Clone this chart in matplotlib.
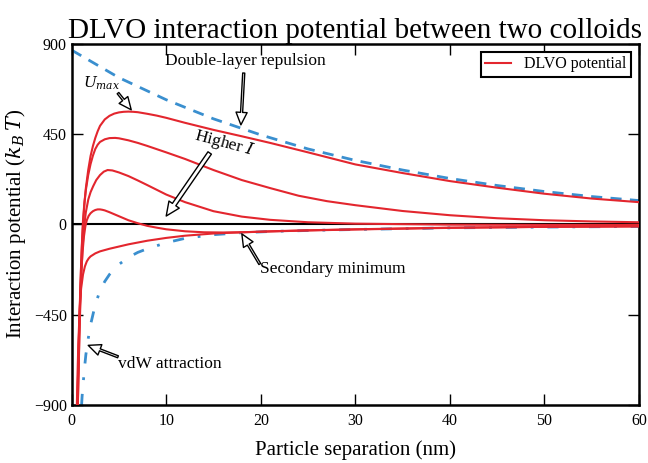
import matplotlib
matplotlib.use('Agg')
import matplotlib.pyplot as plt

# double-layer repulsion (dashed)
x_edl = [0, 5, 10, 15, 20, 25, 30, 35, 40, 45, 50, 55, 60]
u_edl = [867, 730, 620, 525, 445, 375, 318, 270, 228, 193, 163, 138, 118]

# van der Waals attraction (dash-dot)
x_vdw = [1.05, 1.1, 1.2, 1.35, 1.5, 1.75, 2, 2.5, 3, 3.5, 4, 5, 6, 7, 8, 10, 12, 15, 18, 21, 25, 30, 40, 50, 60]
u_vdw = [-900, -860, -800, -720, -650, -570, -500, -400, -330, -285, -250, -200, -165, -140, -122, -92, -70, -52, -42, -36, -31, -26, -18, -14, -11]

# DLVO potential, from low to high ionic strength
x_d1 = [0.6, 0.7, 0.8, 0.9, 1.0, 1.1, 1.2, 1.35, 1.5, 1.75, 2, 2.25, 2.5, 2.75, 3, 3.5, 4, 4.5, 5, 5.5, 6,
        6.5, 7, 8, 9, 10, 12, 15, 18, 21, 25, 30, 35, 40, 45, 50, 55, 60]
u_d1 = [-900, -700, -500, -340, -200, -90, 0, 100, 180, 270, 340, 390, 430, 463, 490, 522, 540, 551, 557, 560, 561,
        560, 558, 550, 541, 530, 505, 470, 438, 405, 358, 298, 255, 215, 182, 152, 128, 110]

x_d2 = [0.65, 0.75, 0.85, 1.0, 1.1, 1.2, 1.35, 1.5, 1.75, 2, 2.25, 2.5, 2.75, 3, 3.5, 4, 4.6, 5, 6, 7, 8,
        10, 12, 15, 18, 21, 24, 27, 30, 35, 40, 45, 50, 55, 60]
u_d2 = [-900, -680, -470, -200, -80, 20, 110, 170, 245, 300, 342, 375, 396, 410, 423, 429, 430, 428, 418, 405, 390,
        358, 325, 270, 220, 180, 142, 115, 95, 66, 45, 30, 20, 14, 10]

x_d3 = [0.65, 0.75, 0.85, 1.0, 1.15, 1.3, 1.5, 1.76, 2, 2.28, 2.6, 3, 3.4, 3.8, 4.3, 5, 6, 7, 8,
        10, 12, 15, 18, 21, 25, 30, 40, 50, 60]
u_d3 = [-900, -700, -500, -280, -120, -20, 60, 124, 160, 190, 220, 245, 262, 270, 268, 258, 240, 218, 195,
        148, 110, 65, 38, 22, 10, 3, -2, -3, -3]

x_d4 = [0.6, 0.7, 0.8, 0.9, 1.0, 1.15, 1.3, 1.45, 1.6, 1.8, 2, 2.25, 2.5, 2.75, 3, 3.25, 3.5, 4, 4.5, 5, 5.5,
        6, 7, 8, 9, 10, 12, 14, 16, 18, 21, 25, 30, 40, 50, 60]
u_d4 = [-900, -700, -500, -360, -250, -140, -60, -10, 20, 42, 55, 65, 71, 74, 74, 72, 69, 60, 50, 40, 30,
        20, 5, -8, -17, -25, -35, -40, -41, -40, -36, -31, -26, -18, -13, -11]

x_d5 = [0.55, 0.62, 0.7, 0.8, 0.9, 1.0, 1.2, 1.4, 1.6, 1.8, 2, 2.5, 3, 4, 5, 6, 8, 10, 12, 15, 18, 21, 25, 30,
        40, 50, 60]
u_d5 = [-900, -750, -600, -480, -380, -320, -250, -210, -185, -170, -160, -145, -135, -122, -111, -100, -82, -68,
        -57, -46, -40, -35, -30, -25, -17, -13, -10]

red = '#e3262e'
blue = '#3a8fcf'

plt.rcParams['font.family'] = ['Liberation Serif', 'DejaVu Serif']
plt.rcParams['mathtext.fontset'] = 'dejavuserif'

fig = plt.figure(figsize=(6.48, 4.63), dpi=100)
ax = fig.add_axes([0.1106, 0.1253, 0.8754, 0.7807])

ax.axhline(0, color='black', lw=1.5, zorder=1)
ax.plot(x_edl, u_edl, color=blue, lw=2, ls=(0, (4, 3)), zorder=2)
ax.plot(x_vdw, u_vdw, color=blue, lw=2, ls=(0, (4, 5, 1, 5)), zorder=2)
ax.plot(x_d1, u_d1, color=red, lw=1.5, label='DLVO potential', zorder=3)
for xs, us in [(x_d2, u_d2), (x_d3, u_d3), (x_d4, u_d4), (x_d5, u_d5)]:
    ax.plot(xs, us, color=red, lw=1.5, zorder=3)

# labels
ax.text(18.4, 812, 'Double-layer repulsion', ha='center', va='center', fontsize=12.5)
ax.text(3.2, 701, '$U_{max}$', ha='center', va='center', fontsize=11)
ax.text(16.2, 405, 'Higher $I$', ha='center', va='center', fontsize=12.5, rotation=-15)
ax.text(27.6, -225, 'Secondary minimum', ha='center', va='center', fontsize=12.5)
ax.text(10.4, -694, 'vdW attraction', ha='center', va='center', fontsize=12.5)

# arrows (tip, tail)
arrow = dict(facecolor='white', edgecolor='black', width=1.5, headwidth=8, headlength=9, shrink=0.0)
ax.annotate('', xy=(17.9, 495), xytext=(18.2, 753), arrowprops=arrow)
ax.annotate('', xy=(6.3, 570), xytext=(4.9, 653), arrowprops=arrow)
ax.annotate('', xy=(10.0, 41), xytext=(14.6, 355),
            arrowprops=dict(facecolor='white', edgecolor='black', width=3, headwidth=9, headlength=10, shrink=0.0))
ax.annotate('', xy=(18.0, -48), xytext=(19.9, -198), arrowprops=arrow)
ax.annotate('', xy=(1.75, -603), xytext=(4.9, -660), arrowprops=arrow)

ax.set_xlim(0, 60)
ax.set_ylim(-900, 900)
ax.set_xticks([0, 10, 20, 30, 40, 50, 60])
ax.set_yticks([-900, -450, 0, 450, 900])
ax.tick_params(direction='in', length=8, width=1, top=True, right=True, labelsize=11.5)
ax.tick_params(axis='x', pad=6)
for s in ax.spines.values():
    s.set_linewidth(1.8)

ax.set_title('DLVO interaction potential between two colloids', fontsize=21, pad=4)
ax.set_xlabel('Particle separation (nm)', fontsize=15, labelpad=8)
ax.set_ylabel('Interaction potential ($k_B\\,T$)', fontsize=15)

leg = ax.legend(loc='upper right', fontsize=11.5, fancybox=False, framealpha=1, edgecolor='black',
                handlelength=1.6, borderpad=0.3)
leg.get_frame().set_linewidth(1.5)

fig.savefig('out.png', dpi=100)
